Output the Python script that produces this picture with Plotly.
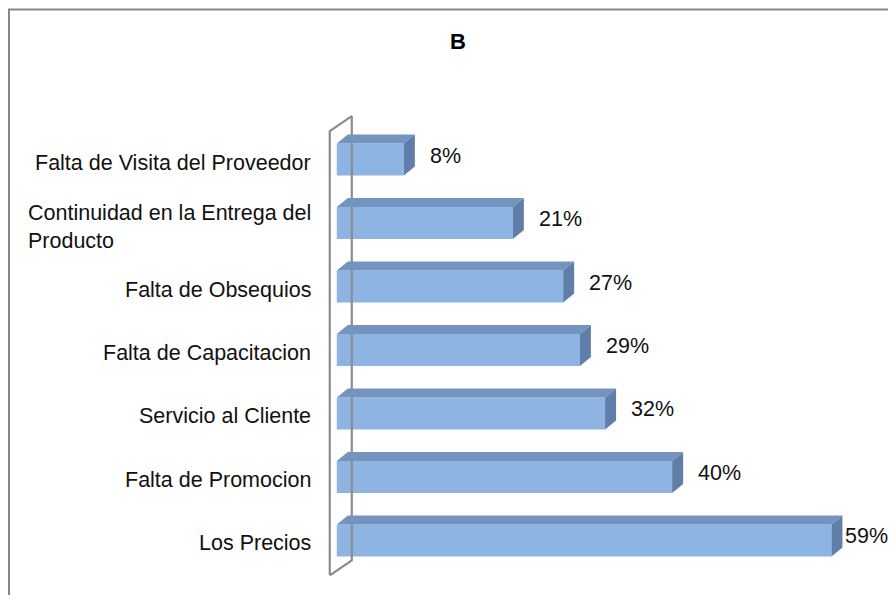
import plotly.graph_objects as go

# Datos (de arriba hacia abajo, como en la figura)
categorias = [
    "Falta de Visita del Proveedor",
    "Continuidad en la Entrega del<br>Producto",
    "Falta de Obsequios",
    "Falta de Capacitacion",
    "Servicio al Cliente",
    "Falta de Promocion",
    "Los Precios",
]
porcentajes = [8, 21, 27, 29, 32, 40, 59]
titulo = "B"

# Orden de abajo hacia arriba para el eje numérico
cats = categorias[::-1]
vals = porcentajes[::-1]
n = len(cats)

# Geometría del lienzo (la página agrega 8 px de margen al body)
ANCHO, ALTO = 880, 587
M_L, M_R, M_T, M_B = 312, 23, 104, 7
X_RANGO = [-2, 63]
Y_RANGO = [-0.75, n - 0.25]
plot_w = ANCHO - M_L - M_R
plot_h = ALTO - M_T - M_B
px_x = plot_w / (X_RANGO[1] - X_RANGO[0])
px_y = plot_h / (Y_RANGO[1] - Y_RANGO[0])

# Efecto 3D (en píxeles, pasado a unidades de datos)
DX_PX, DY_PX = 11, 9
dx = DX_PX / px_x
dy = DY_PX / px_y
media = 0.252

C_FRENTE = "#8DB4E2"
C_TECHO = "#7593BF"
C_LADO = "#5F7FA9"
C_PARED = "#8C8C8C"

fig = go.Figure()

# Pared lateral (marco gris del eje de categorías)
wx0 = -7 / px_x
wdx = 22 / px_x
wdy = 15 / px_y
y_bajo, y_alto = -0.55, n - 0.55
fig.add_trace(go.Scatter(
    x=[wx0, wx0, wx0 + wdx, wx0 + wdx, wx0],
    y=[y_bajo, y_alto, y_alto + wdy, y_bajo + wdy, y_bajo],
    mode="lines", line=dict(color=C_PARED, width=2.2),
    hoverinfo="skip", showlegend=False,
))

# Barras: frente
fig.add_trace(go.Bar(
    x=vals, y=list(range(n)), orientation="h", width=2 * media,
    marker=dict(color=C_FRENTE, line=dict(width=0)),
    showlegend=False, hoverinfo="skip",
))

# Techo y lado de cada barra
for i, v in enumerate(vals):
    fig.add_trace(go.Scatter(
        x=[0, v, v + dx, dx, 0],
        y=[i + media, i + media, i + media + dy, i + media + dy, i + media],
        fill="toself", fillcolor=C_TECHO, mode="lines",
        line=dict(width=0, color=C_TECHO), hoverinfo="skip", showlegend=False,
    ))
    fig.add_trace(go.Scatter(
        x=[v, v + dx, v + dx, v, v],
        y=[i - media, i - media + dy, i + media + dy, i + media, i - media],
        fill="toself", fillcolor=C_LADO, mode="lines",
        line=dict(width=0, color=C_LADO), hoverinfo="skip", showlegend=False,
    ))

FUENTE = "Liberation Sans, Arial, sans-serif"

anotaciones = []
for i, (c, v) in enumerate(zip(cats, vals)):
    anotaciones.append(dict(
        x=0, y=i, xref="x", yref="y", text=c, showarrow=False,
        xanchor="right", yanchor="middle", align="left",
        xshift=-24, yshift=-3 if "<br>" not in c else -4,
        font=dict(family=FUENTE, size=21.5, color="#111111"),
    ))
    # la etiqueta mayor se acerca a la barra para no salirse del lienzo
    anotaciones.append(dict(
        x=v, y=i, xref="x", yref="y", text=f"{v}%", showarrow=False,
        xanchor="left", yanchor="middle",
        xshift=24 if v < max(vals) else DX_PX + 1, yshift=4,
        font=dict(family=FUENTE, size=21.5, color="#111111"),
    ))


# Borde del gráfico
def px2paper_x(p):
    return (p - M_L) / plot_w


def px2paper_y(p):
    return (ALTO - M_B - p) / plot_h


fig.update_layout(
    width=ANCHO, height=ALTO,
    margin=dict(l=M_L, r=M_R, t=M_T, b=M_B),
    paper_bgcolor="white", plot_bgcolor="white",
    barmode="overlay",
    title=dict(
        text=f"<b>{titulo}</b>", x=450 / ANCHO, y=1 - 33 / ALTO,
        xref="container", yref="container",
        xanchor="center", yanchor="middle",
        font=dict(family=FUENTE, size=22, color="black"),
    ),
    xaxis=dict(range=X_RANGO, visible=False, fixedrange=True),
    yaxis=dict(range=Y_RANGO, visible=False, fixedrange=True),
    annotations=anotaciones,
    shapes=[dict(
        type="rect", xref="paper", yref="paper",
        x0=px2paper_x(1), x1=px2paper_x(892),
        y0=px2paper_y(600), y1=px2paper_y(1.5),
        line=dict(color="#878787", width=2), layer="above",
    )],
)

fig.write_html("out.html")
